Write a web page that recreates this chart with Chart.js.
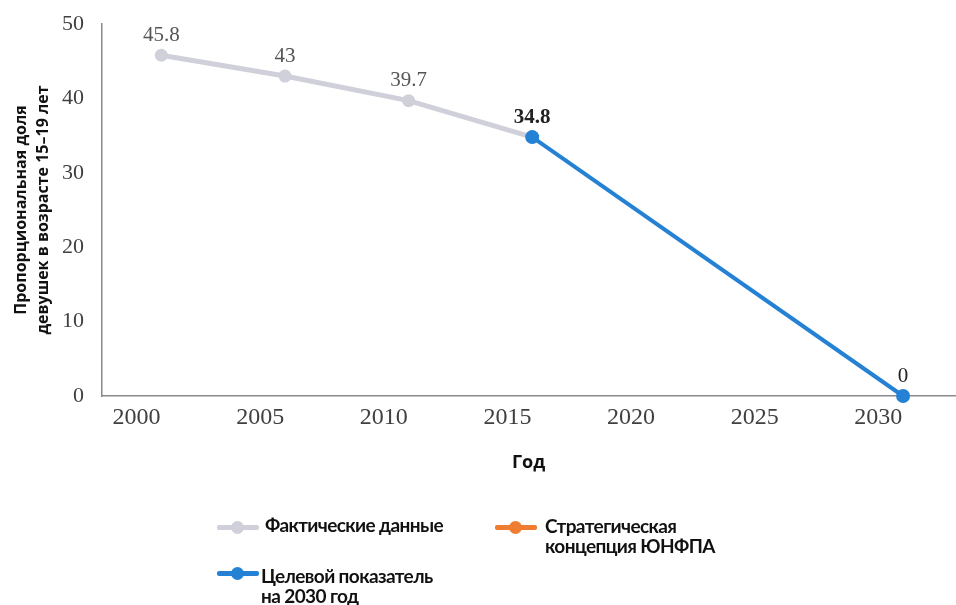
<!DOCTYPE html>
<html>
<head>
<meta charset="utf-8">
<script src="https://cdn.jsdelivr.net/npm/chart.js@4/dist/chart.umd.min.js"></script>
<style>
    html, body { margin: 0; padding: 0; background: #fff; }
    #wrap { position: relative; width: 956px; height: 605px; }
    #chart { position: absolute; left: 0; top: 0; }
    .legendItem { position: absolute; font-family: Lato, "Open Sans", sans-serif; font-weight: bold; font-size: 19px; letter-spacing: -0.6px; line-height: 20px; color: #111; white-space: pre; }
    .legendMark { position: absolute; height: 5px; border-radius: 2px; }
    .legendDot { position: absolute; width: 13px; height: 13px; border-radius: 50%; top: -4px; }
</style>
</head>
<body>
<div id="wrap">
    <canvas id="chart" width="956" height="605"></canvas>
</div>
<script>
// values
const actualYears = [2001, 2006, 2011, 2016];
const actualValues = [45.8, 43, 39.7, 34.8];
const targetYears = [2016, 2031];
const targetValues = [34.8, 0];
const xTickYears = [2000, 2005, 2010, 2015, 2020, 2025, 2030];
const yTickValues = [0, 10, 20, 30, 40, 50];

const seriesNames = ["Фактические данные", "Стратегическая\nконцепция ЮНФПА", "Целевой показатель\nна 2030 год"];
const seriesColors = ["#cfd0d9", "#ee7d31", "#2581d4"];

function toPoints(xs, ys) {
    return xs.map((x, i) => ({ x: x, y: ys[i] }));
}

// draws the value above each point
const valueLabels = {
    id: "valueLabels",
    afterDatasetsDraw(chart) {
        const ctx = chart.ctx;
        chart.data.datasets.forEach((ds, di) => {
            if (!ds.valueLabel) return;
            const meta = chart.getDatasetMeta(di);
            meta.data.forEach((pt, i) => {
                if (ds.valueLabel.skip && ds.valueLabel.skip.includes(i)) return;
                const bold = ds.valueLabel.bold && ds.valueLabel.bold.includes(i);
                ctx.save();
                ctx.font = (bold ? "bold " : "") + "21px 'Liberation Serif'";
                ctx.fillStyle = ds.valueLabel.color;
                ctx.textAlign = "center";
                ctx.textBaseline = "middle";
                ctx.fillText(String(ds.data[i].y), pt.x, pt.y - 20);
                ctx.restore();
            });
        });
    }
};

const chart = new Chart(document.getElementById("chart"), {
    type: "line",
    data: {
        datasets: [
            {
                label: seriesNames[0],
                data: toPoints(actualYears, actualValues),
                borderColor: seriesColors[0],
                backgroundColor: seriesColors[0],
                borderWidth: 5,
                pointRadius: 6.5,
                pointBorderWidth: 0,
                order: 2,
                clip: false,
                valueLabel: { color: "#555", skip: [3] }
            },
            {
                label: seriesNames[1],
                data: [],
                borderColor: seriesColors[1],
                backgroundColor: seriesColors[1],
                order: 1
            },
            {
                label: seriesNames[2],
                data: toPoints(targetYears, targetValues),
                borderColor: seriesColors[2],
                backgroundColor: seriesColors[2],
                borderWidth: 4,
                pointRadius: 7,
                pointBorderWidth: 0,
                order: 0,
                clip: false,
                valueLabel: { color: "#222", bold: [0] }
            }
        ]
    },
    options: {
        responsive: false,
        animation: false,
        layout: { autoPadding: false, padding: { left: 0, top: 24, right: 1, bottom: 125 } },
        plugins: {
            legend: { display: false },
            tooltip: { enabled: false }
        },
        scales: {
            x: {
                type: "linear",
                min: 1998.6,
                max: 2033.1,
                grid: { display: false, drawTicks: false },
                border: { display: true, color: "#8a8a8a", width: 1.5 },
                afterBuildTicks: (scale) => {
                    scale.ticks = xTickYears.map(v => ({ value: v }));
                },
                afterFit: (scale) => { scale.height = 84; },
                ticks: {
                    padding: 7,
                    color: "#404040",
                    font: { family: "'Liberation Serif'", size: 24 },
                    callback: (v) => String(v)
                },
                title: {
                    display: true,
                    text: "Год",
                    color: "#111",
                    font: { family: "'Open Sans'", size: 18, weight: "bold" },
                    padding: { top: 8, bottom: 6 }
                }
            },
            y: {
                min: 0,
                max: 50,
                grid: { display: false, drawTicks: false },
                border: { display: true, color: "#8a8a8a", width: 1.5 },
                afterBuildTicks: (scale) => {
                    scale.ticks = yTickValues.map(v => ({ value: v }));
                },
                afterFit: (scale) => { scale.width = 102; },
                ticks: {
                    padding: 18,
                    color: "#404040",
                    font: { family: "'Liberation Serif'", size: 22, lineHeight: 0.5 }
                },
                title: {
                    display: true,
                    text: ["Пропорциональная доля", "девушек в возрасте 15–19 лет"],
                    color: "#111",
                    font: { family: "'Open Sans'", size: 16, weight: "bold", lineHeight: 1.4 },
                    padding: { top: 10, bottom: 0 }
                }
            }
        }
    },
    plugins: [valueLabels]
});

// html legend built from the datasets
const legendPlaces = [
    { mark: [217, 527], text: [265, 515] },
    { mark: [495, 527], text: [545, 516] },
    { mark: [217, 573], text: [261, 566] }
];
const wrap = document.getElementById("wrap");
chart.data.datasets.forEach((ds, i) => {
    const place = legendPlaces[i];
    const mark = document.createElement("div");
    mark.className = "legendMark";
    mark.style.left = place.mark[0] + "px";
    mark.style.top = (place.mark[1] - 2) + "px";
    mark.style.width = "42px";
    mark.style.background = ds.borderColor;
    const dot = document.createElement("div");
    dot.className = "legendDot";
    dot.style.left = "14px";
    dot.style.background = ds.borderColor;
    mark.appendChild(dot);
    wrap.appendChild(mark);

    const text = document.createElement("div");
    text.className = "legendItem";
    text.style.left = place.text[0] + "px";
    text.style.top = place.text[1] + "px";
    text.innerText = ds.label;
    wrap.appendChild(text);
});
</script>
</body>
</html>
